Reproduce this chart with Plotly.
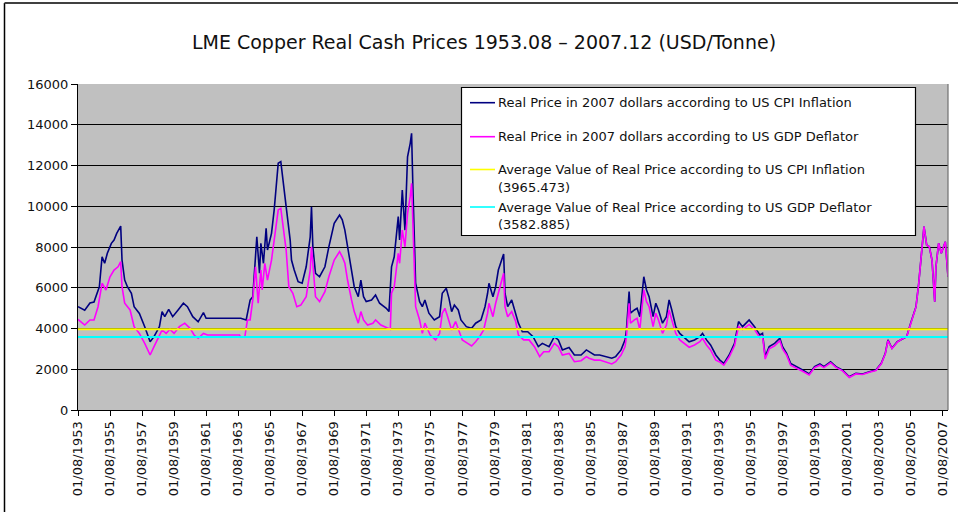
import plotly.graph_objects as go

# ---------------- data ----------------
period = ["1953-08-01", "2007-12-01"]

cpi_dates = [
    "1953-08", "1954-01", "1954-05", "1954-08", "1954-12", "1955-02", "1955-04", "1955-06",
    "1955-09", "1955-11", "1956-01", "1956-04", "1956-05", "1956-07", "1956-09", "1956-12",
    "1957-02", "1957-06", "1957-10", "1958-02", "1958-05", "1958-09", "1958-11", "1959-01",
    "1959-04", "1959-07", "1959-11", "1960-03", "1960-06", "1960-10", "1961-02", "1961-06",
    "1961-08", "1963-10", "1964-02", "1964-05", "1964-07", "1964-10", "1964-12", "1965-01",
    "1965-03", "1965-05", "1965-06", "1965-09", "1965-11", "1966-02", "1966-04", "1966-06",
    "1966-08", "1966-11", "1966-12", "1967-02", "1967-05", "1967-08", "1967-11", "1968-02",
    "1968-03", "1968-04", "1968-06", "1968-09", "1969-01", "1969-04", "1969-08", "1969-12",
    "1970-02", "1970-04", "1970-06", "1970-09", "1970-11", "1971-02", "1971-04", "1971-06",
    "1971-08", "1971-12", "1972-03", "1972-06", "1972-11", "1973-01", "1973-03", "1973-05",
    "1973-08", "1973-09", "1973-11", "1974-01", "1974-03", "1974-05", "1974-06", "1974-07",
    "1974-09", "1974-12", "1975-02", "1975-04", "1975-07", "1975-11", "1976-03", "1976-05",
    "1976-07", "1976-08", "1976-10", "1976-12", "1977-02", "1977-05", "1977-07", "1977-11",
    "1978-03", "1978-06", "1978-10", "1979-01", "1979-03", "1979-04", "1979-07", "1979-09",
    "1979-11", "1980-02", "1980-03", "1980-04", "1980-06", "1980-09", "1980-11", "1981-02",
    "1981-05", "1981-09", "1982-01", "1982-05", "1982-08", "1983-01", "1983-05", "1983-08",
    "1983-11", "1984-04", "1984-08", "1985-01", "1985-05", "1985-07", "1985-11", "1986-03",
    "1986-07", "1986-12", "1987-03", "1987-07", "1987-10", "1987-11", "1988-01", "1988-02",
    "1988-05", "1988-07", "1988-09", "1988-11", "1988-12", "1989-02", "1989-04", "1989-07",
    "1989-09", "1989-11", "1990-02", "1990-05", "1990-07", "1990-09", "1990-12", "1991-03",
    "1991-06", "1991-10", "1992-02", "1992-06", "1992-08", "1992-11", "1993-02", "1993-06",
    "1993-09", "1993-12", "1994-04", "1994-08", "1994-11", "1995-02", "1995-07", "1995-11",
    "1996-03", "1996-05", "1996-07", "1996-10", "1997-02", "1997-06", "1997-08", "1997-11",
    "1998-02", "1998-06", "1998-11", "1999-04", "1999-08", "1999-12", "2000-03", "2000-08",
    "2000-12", "2001-05", "2001-10", "2002-03", "2002-08", "2003-01", "2003-06", "2003-10",
    "2004-01", "2004-03", "2004-06", "2004-10", "2005-02", "2005-05", "2005-08", "2005-12",
    "2006-02", "2006-04", "2006-06", "2006-08", "2006-10", "2006-12", "2007-02", "2007-03",
    "2007-05", "2007-07", "2007-10", "2007-12",
]
cpi_values = [
    5070, 4900, 5250, 5300, 6050, 7520, 7200, 7690,
    8180, 8340, 8670, 9030, 7360, 6380, 6050, 5730,
    5070, 4740, 4090, 3350, 3600, 4090, 4830, 4580,
    4940, 4580, 4910, 5240, 5070, 4580, 4330, 4780,
    4500, 4500, 4420, 5400, 5560, 8500, 6710, 8180,
    7200, 8920, 7850, 8670, 9820, 12110, 12190, 10960,
    9980, 8340, 7360, 6870, 6300, 6220, 7030, 8500,
    9980, 8010, 6710, 6540, 7030, 8010, 9160, 9570,
    9330, 8830, 8010, 6870, 6050, 5560, 6380, 5560,
    5320, 5400, 5640, 5240, 4990, 4830, 7030, 7520,
    9490, 8340, 10800, 8830, 12430, 13090, 13580, 10960,
    6220, 5320, 5070, 5400, 4750, 4420, 4580, 5730,
    5890, 5970, 5480, 4830, 5150, 4910, 4420, 4090,
    4010, 4260, 4420, 5070, 5730, 6220, 5560, 6050,
    6870, 7520, 7660, 5730, 5070, 5400, 4910, 4260,
    3840, 3840, 3600, 3110, 3270, 3110, 3600, 3440,
    2950, 3070, 2700, 2700, 2950, 2860, 2700, 2700,
    2620, 2540, 2620, 2950, 3440, 3930, 5810, 4750,
    4910, 4990, 4580, 5810, 6540, 5890, 5560, 4580,
    5240, 4910, 4260, 4580, 5400, 4910, 4090, 3760,
    3600, 3350, 3440, 3600, 3760, 3440, 3190, 2700,
    2450, 2290, 2700, 3270, 4340, 4090, 4420, 4090,
    3680, 3760, 2620, 3110, 3270, 3520, 3110, 2780,
    2290, 2130, 1960, 1770, 2130, 2260, 2130, 2370,
    2130, 1960, 1630, 1800, 1770, 1880, 1960, 2290,
    2780, 3440, 3030, 3350, 3520, 3600, 4260, 5070,
    6220, 7690, 9000, 8100, 8010, 7360, 5320, 7030,
    8180, 7690, 8260, 6540,
]

gdp_dates = [
    "1953-08", "1954-01", "1954-05", "1954-08", "1954-11", "1955-02", "1955-05", "1955-08",
    "1955-11", "1956-02", "1956-04", "1956-05", "1956-07", "1956-11", "1957-02", "1957-06",
    "1957-10", "1958-02", "1958-05", "1958-09", "1958-11", "1959-02", "1959-05", "1959-08",
    "1959-12", "1960-04", "1960-08", "1960-11", "1961-02", "1961-06", "1961-09", "1963-09",
    "1963-10", "1964-01", "1964-03", "1964-05", "1964-07", "1964-09", "1964-11", "1965-01",
    "1965-02", "1965-04", "1965-06", "1965-09", "1965-11", "1966-02", "1966-04", "1966-06",
    "1966-08", "1966-10", "1967-01", "1967-04", "1967-07", "1967-11", "1968-02", "1968-03",
    "1968-04", "1968-06", "1968-09", "1969-01", "1969-04", "1969-08", "1969-12", "1970-02",
    "1970-04", "1970-06", "1970-09", "1970-11", "1971-02", "1971-04", "1971-06", "1971-09",
    "1972-01", "1972-03", "1972-07", "1972-12", "1973-02", "1973-03", "1973-05", "1973-08",
    "1973-09", "1973-11", "1974-01", "1974-03", "1974-05", "1974-06", "1974-07", "1974-09",
    "1974-12", "1975-02", "1975-04", "1975-08", "1975-12", "1976-03", "1976-05", "1976-07",
    "1976-09", "1976-12", "1977-03", "1977-05", "1977-08", "1977-12", "1978-03", "1978-06",
    "1978-09", "1978-12", "1979-03", "1979-04", "1979-07", "1979-09", "1979-11", "1980-02",
    "1980-03", "1980-04", "1980-06", "1980-09", "1980-12", "1981-02", "1981-06", "1981-10",
    "1982-02", "1982-06", "1982-09", "1983-01", "1983-05", "1983-08", "1983-11", "1984-04",
    "1984-08", "1985-01", "1985-05", "1985-07", "1985-11", "1986-03", "1986-07", "1986-12",
    "1987-03", "1987-07", "1987-10", "1987-11", "1988-01", "1988-02", "1988-05", "1988-07",
    "1988-09", "1988-11", "1988-12", "1989-02", "1989-04", "1989-07", "1989-09", "1989-11",
    "1990-02", "1990-05", "1990-07", "1990-09", "1990-12", "1991-03", "1991-06", "1991-10",
    "1992-02", "1992-06", "1992-08", "1992-11", "1993-02", "1993-06", "1993-09", "1993-12",
    "1994-04", "1994-08", "1994-11", "1995-02", "1995-07", "1995-11", "1996-03", "1996-05",
    "1996-07", "1996-10", "1997-02", "1997-06", "1997-08", "1997-11", "1998-02", "1998-06",
    "1998-11", "1999-04", "1999-08", "1999-12", "2000-03", "2000-08", "2000-12", "2001-05",
    "2001-10", "2002-03", "2002-08", "2003-01", "2003-06", "2003-10", "2004-01", "2004-03",
    "2004-06", "2004-10", "2005-02", "2005-05", "2005-08", "2005-12", "2006-02", "2006-04",
    "2006-06", "2006-08", "2006-10", "2006-12", "2007-02", "2007-03", "2007-05", "2007-07",
    "2007-10", "2007-12",
]
gdp_values = [
    4450, 4170, 4420, 4420, 5070, 6220, 5890, 6540,
    6870, 7030, 7280, 6050, 5240, 4910, 4090, 3760,
    3270, 2700, 3110, 3680, 3930, 3760, 3960, 3760,
    4090, 4260, 4010, 3680, 3520, 3760, 3680, 3680,
    3580, 3580, 4420, 4420, 5400, 7030, 5240, 6870,
    5890, 7200, 6380, 7360, 8340, 9820, 9900, 8830,
    7850, 6050, 5730, 5070, 5150, 5560, 6870, 8010,
    7030, 5560, 5320, 5810, 6540, 7360, 7770, 7520,
    7200, 6380, 5400, 4830, 4260, 4830, 4420, 4170,
    4260, 4420, 4170, 4010, 3960, 5730, 6050, 7690,
    7200, 8830, 8010, 9650, 10470, 11130, 8830, 5070,
    4420, 3760, 4260, 3680, 3440, 3760, 4750, 4990,
    4580, 3930, 4340, 4010, 3440, 3270, 3140, 3350,
    3600, 3930, 4750, 5240, 4580, 5240, 5730, 6380,
    6710, 5070, 4580, 4830, 4340, 3680, 3440, 3440,
    3110, 2620, 2860, 2860, 3270, 3110, 2700, 2780,
    2370, 2420, 2620, 2540, 2450, 2450, 2370, 2260,
    2370, 2700, 3110, 3600, 5240, 4260, 4420, 4500,
    3930, 5320, 5890, 5320, 5070, 4090, 4750, 4420,
    3760, 4170, 4910, 4420, 3760, 3440, 3270, 3080,
    3190, 3350, 3520, 3190, 2950, 2450, 2350, 2200,
    2600, 3150, 4090, 3950, 4200, 3950, 3550, 3650,
    2500, 3000, 3150, 3400, 3000, 2700, 2200, 2050,
    1900, 1720, 2080, 2200, 2080, 2320, 2090, 1920,
    1600, 1770, 1740, 1850, 1940, 2270, 2760, 3400,
    3010, 3330, 3510, 3590, 4250, 5060, 6210, 7680,
    9000, 8100, 8010, 7360, 5320, 7030, 8180, 7690,
    8260, 6540,
]

avg_cpi = 3965.473
avg_gdp = 3582.885

series_names = [
    "Real Price in 2007 dollars according to US CPI Inflation",
    "Real Price in 2007 dollars according to US GDP Deflator",
    "Average Value of Real Price according to US CPI Inflation",
    "Average Value of Real Price according to US GDP Deflator",
]

tick_dates = [
    "1953-08-01", "1955-08-01", "1957-08-01", "1959-08-01", "1961-08-01", "1963-08-01",
    "1965-08-01", "1967-08-01", "1969-08-01", "1971-08-01", "1973-08-01", "1975-08-01",
    "1977-08-01", "1979-08-01", "1981-08-01", "1983-08-01", "1985-08-01", "1987-08-01",
    "1989-08-01", "1991-08-01", "1993-08-01", "1995-08-01", "1997-08-01", "1999-08-01",
    "2001-08-01", "2003-08-01", "2005-08-01", "2007-08-01",
]
tick_labels = [
    "01/08/1953", "01/08/1955", "01/08/1957", "01/08/1959", "01/08/1961", "01/08/1963",
    "01/08/1965", "01/08/1967", "01/08/1969", "01/08/1971", "01/08/1973", "01/08/1975",
    "01/08/1977", "01/08/1979", "01/08/1981", "01/08/1983", "01/08/1985", "01/08/1987",
    "01/08/1989", "01/08/1991", "01/08/1993", "01/08/1995", "01/08/1997", "01/08/1999",
    "01/08/2001", "01/08/2003", "01/08/2005", "01/08/2007",
]

# ---------------- styling ----------------
NAVY = "#000080"
MAGENTA = "#FF00FF"
YELLOW = "#FFFF00"
CYAN = "#00FFFF"
FONT = "DejaVu Sans"

W, H = 958, 512
L, R, T, B = 78, 10, 84, 102
PW, PH = W - L - R, H - T - B


def fx(px):
    return (px - L) / PW


def fy(py):
    return (H - B - py) / PH


fig = go.Figure()
fig.add_trace(go.Scatter(x=cpi_dates, y=cpi_values, mode="lines",
                         line=dict(color=NAVY, width=1.6), name=series_names[0]))
fig.add_trace(go.Scatter(x=gdp_dates, y=gdp_values, mode="lines",
                         line=dict(color=MAGENTA, width=1.6), name=series_names[1]))
fig.add_trace(go.Scatter(x=period, y=[avg_cpi, avg_cpi], mode="lines",
                         line=dict(color=YELLOW, width=2), name=series_names[2]))
fig.add_trace(go.Scatter(x=period, y=[avg_gdp, avg_gdp], mode="lines",
                         line=dict(color=CYAN, width=2), name=series_names[3]))

# ---- hand-built legend box (matches the Excel legend layout) ----
shapes = []
annotations = []
shapes.append(dict(type="rect", xref="paper", yref="paper",
                   x0=fx(461.5), x1=fx(915.5), y0=fy(235.5), y1=fy(87.5),
                   fillcolor="white", line=dict(color="black", width=1.2), layer="above"))
legend_rows = [
    (NAVY, 102.7, [series_names[0]]),
    (MAGENTA, 136.7, [series_names[1]]),
    (YELLOW, 169.5, [series_names[2], "(%.3f)" % avg_cpi]),
    (CYAN, 207.0, [series_names[3], "(%.3f)" % avg_gdp]),
]
line_gap = 18.0
for col, yy, texts in legend_rows:
    shapes.append(dict(type="line", xref="paper", yref="paper",
                       x0=fx(470), x1=fx(495), y0=fy(yy), y1=fy(yy),
                       line=dict(color=col, width=1.6), layer="above"))
    for j, t in enumerate(texts):
        annotations.append(dict(xref="paper", yref="paper", x=fx(497), y=fy(yy + j * line_gap),
                                xanchor="left", yanchor="middle", showarrow=False, text=t,
                                borderpad=0,
                                font=dict(family=FONT, size=13, color="#111")))

# right border of plot area
shapes.append(dict(type="line", xref="paper", yref="paper", x0=1, x1=1, y0=0, y1=1,
                   line=dict(color="#707070", width=1.2)))
# outer chart frame (left and top edges visible)
shapes.append(dict(type="line", xref="paper", yref="paper", x0=fx(4.5), x1=fx(4.5),
                   y0=fy(3), y1=fy(515), line=dict(color="black", width=1.5)))
shapes.append(dict(type="line", xref="paper", yref="paper", x0=fx(4.5), x1=fx(960),
                   y0=fy(3), y1=fy(3), line=dict(color="#404040", width=2)))

fig.update_layout(
    width=W, height=H, autosize=False,
    margin=dict(l=L, r=R, t=T, b=B),
    paper_bgcolor="white", plot_bgcolor="#C0C0C0",
    showlegend=False,
    title=dict(text="LME Copper Real Cash Prices 1953.08 \u2013 2007.12 (USD/Tonne)",
               x=484 / W, xref="container", xanchor="center",
               y=1 - 42 / H, yref="container", yanchor="middle",
               font=dict(family=FONT, size=19, color="#111")),
    font=dict(family=FONT, color="#111"),
    shapes=shapes, annotations=annotations,
    xaxis=dict(type="date", range=period, tickmode="array", tickvals=tick_dates,
               ticktext=tick_labels, tickangle=-90, ticks="outside", ticklen=5,
               tickcolor="black", showline=True, linecolor="black", linewidth=1.2,
               showgrid=False, zeroline=False, automargin=False,
               tickfont=dict(family=FONT, size=13, color="#111")),
    yaxis=dict(range=[0, 16000], dtick=2000, tick0=0, tickformat="d", ticks="outside",
               ticklen=6, tickcolor="black", showline=True, linecolor="black", linewidth=1.2,
               showgrid=True, gridcolor="black", gridwidth=1.4, zeroline=False,
               automargin=False, tickfont=dict(family=FONT, size=13, color="#111")),
)

fig.write_html("out.html", config={"displayModeBar": False},
               post_script="document.body.style.margin='0px';")
